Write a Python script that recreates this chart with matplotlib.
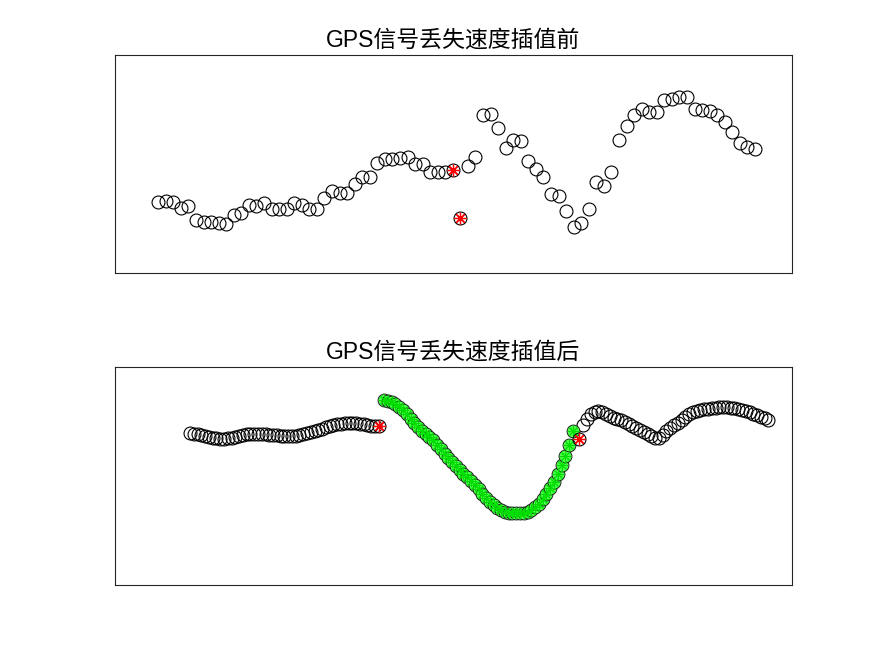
import numpy as np
import matplotlib
matplotlib.use("Agg")
import matplotlib.pyplot as plt

plt.rcParams['font.family'] = ['Liberation Sans', 'Noto Sans CJK SC', 'DejaVu Sans']

# ---------------- data ----------------
title_top = "GPS信号丢失速度插值前"
title_bottom = "GPS信号丢失速度插值后"

# Top: raw speed samples (index 1..80), with two faulty samples (40, 41)
top_speed = [71, 72.5, 71, 65.3, 67, 53, 51.3, 50.7, 50.3, 48.7,
             58, 59.7, 68, 67, 69.7, 63.7, 63.7, 63.7, 69.7, 68,
             63.7, 63.7, 74.7, 82.3, 80.3, 79.7, 89, 96.3, 96.3, 109.7,
             113.7, 114.3, 114.7, 116.3, 109, 109, 101.3, 101.3, 101.3, 103,
             54.7, 107, 116.3, 158, 159, 145.3, 125.3, 133, 132, 112.3,
             103.7, 96.3, 79, 77, 62.3, 46.3, 49.7, 63.7, 90.7, 87,
             101.3, 133, 147, 158, 163.7, 161.3, 161.3, 173, 174, 175.7,
             175.7, 163.7, 163, 162, 158, 151.3, 140.7, 130.3, 126.3, 124]
top_bad_idx = [40, 41]

# Bottom: resampled speed (half step)
left_start, step = 5.2, 0.5
left_speed = [152, 151.5, 151, 150, 149, 148, 147.5, 147, 146.5, 146.5,
              147, 147.5, 148.5, 149.5, 150.5, 151, 151, 151, 151, 151,
              151, 150.5, 150.5, 150, 149.5, 149, 149, 149, 149.5, 150,
              151, 152, 153, 154, 155, 156.5, 158, 159, 160, 161,
              161.5, 162, 162, 162, 162, 161.5, 161, 160, 159.5, 159]
red_bottom_x = [30.2, 56.75]
red_bottom_speed = [159, 146]

green_start = 30.9
green_speed = [185, 184.5, 183, 181, 178, 175, 171, 166.5, 162, 158,
               154, 151, 148, 145, 140.5, 136, 131.5, 127, 123, 119,
               115, 111.5, 108, 104, 100, 96, 91.5, 87, 83, 80,
               77, 75, 73.5, 72.5, 72, 72, 72, 72.5, 73.5, 75.5,
               78, 81.5, 86, 91, 97, 103, 111, 120, 129, 140,
               154]

right_start = 57.28
right_speed = [160, 166, 171, 173.5, 174, 173.5, 171.5, 169, 167, 166,
               165, 163.5, 161.5, 159, 157, 155, 153, 151, 149, 147,
               147.5, 150, 154, 157, 160, 162.5, 165.5, 168.5, 171, 173,
               174, 175, 176, 176.5, 177, 177.5, 178, 178, 178, 177.5,
               177, 176, 175, 174, 173, 171.5, 170, 168.5, 167, 165]

# ---------------- plot ----------------
fig = plt.figure(figsize=(8.75, 6.56), dpi=100)
ax1 = fig.add_axes([0.1314, 0.5838, 0.7737, 0.3323])
ax2 = fig.add_axes([0.1314, 0.1082, 0.7737, 0.3323])

ms = 9.3
mew = 0.8
ast = (8, 2, 0)

x_top = np.arange(1, len(top_speed) + 1)
ax1.plot(x_top, top_speed, 'o', ls='none', mfc='none', mec='black', ms=ms, mew=mew)
bx = [x_top[i - 1] for i in top_bad_idx]
by = [top_speed[i - 1] for i in top_bad_idx]
ax1.plot(bx, by, ls='none', marker=ast, color='red', ms=8.5, mew=0.9)

xl = left_start + step * np.arange(len(left_speed))
xg = green_start + step * np.arange(len(green_speed))
xr = right_start + step * np.arange(len(right_speed))

ax2.plot(xl, left_speed, 'o', ls='none', mfc='none', mec='black', ms=ms, mew=mew)
ax2.plot(xr, right_speed, 'o', ls='none', mfc='none', mec='black', ms=ms, mew=mew)
ax2.plot(xg, green_speed, 'o', ls='none', mfc='#4dff4d', mec='#1a1a1a', ms=ms, mew=0.65)
ax2.plot(xg, green_speed, ls='none', marker=ast, color='#00dd00', ms=8, mew=0.7)
ax2.plot(red_bottom_x, red_bottom_speed, 'o', ls='none', mfc='none', mec='black', ms=ms, mew=mew)
ax2.plot(red_bottom_x, red_bottom_speed, ls='none', marker=ast, color='red', ms=8.5, mew=0.9)

for ax, t in ((ax1, title_top), (ax2, title_bottom)):
    ax.set_xlim(-4.73, 84.9)
    ax.set_ylim(0, 218)
    ax.set_xticks([])
    ax.set_yticks([])
    for s in ax.spines.values():
        s.set_linewidth(0.8)
        s.set_color('#262626')
    ax.set_title(t, fontsize=16.5, pad=6)

fig.savefig("out.png", dpi=100)
